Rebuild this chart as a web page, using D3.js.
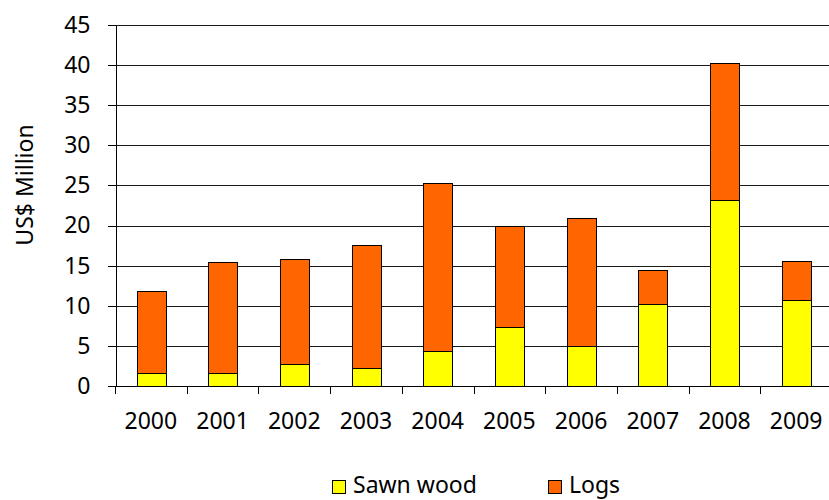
<!DOCTYPE html>
<html>
<head>
<meta charset="utf-8"/>
<title>Sawn wood and logs</title>
<style>
  * { margin: 0; padding: 0; }
  body { background: #fff; }
  svg { display: block; }
  text { font-family: "Noto Sans", "Open Sans", sans-serif; font-size: 23px; fill: #000; }
  .grid line { stroke: #1a1a1a; stroke-width: 1; }
  .axis path, .axis line { stroke: #000; stroke-width: 1; shape-rendering: crispEdges; }
</style>
<script src="https://d3js.org/d3.v7.min.js"></script>
</head>
<body>
<svg width="829" height="500"></svg>
<script>
// years on the x axis
const years = ["2000","2001","2002","2003","2004","2005","2006","2007","2008","2009"];
// US$ million
const sawnWood = [1.6, 1.6, 2.7, 2.2, 4.4, 7.3, 5.0, 10.2, 23.2, 10.7];
const logs     = [10.2, 13.9, 13.1, 15.4, 20.9, 12.7, 16.0, 4.3, 17.1, 4.9];
const seriesNames = ["Sawn wood", "Logs"];
const seriesColors = ["#FFFF00", "#FF6600"];
const yTicks = [0, 5, 10, 15, 20, 25, 30, 35, 40, 45];

const rows = years.map((y, i) => ({ year: y, "Sawn wood": sawnWood[i], "Logs": logs[i] }));

const plotLeft = 115, plotRight = 832, plotTop = 25, plotBottom = 386;
const svg = d3.select("svg");

const x = d3.scaleBand()
  .domain(years)
  .range([plotLeft, plotRight])
  .paddingInner(0.6)
  .paddingOuter(0.3);

const y = d3.scaleLinear()
  .domain([0, 45])
  .range([plotBottom, plotTop]);

// horizontal grid lines
svg.append("g").attr("class", "grid")
  .selectAll("line")
  .data(yTicks.filter(d => d > 0))
  .enter().append("line")
  .attr("x1", plotLeft).attr("x2", 829)
  .attr("y1", d => Math.round(y(d)) + 0.5)
  .attr("y2", d => Math.round(y(d)) + 0.5);

// stacked bars
const stacked = d3.stack().keys(seriesNames)(rows);
svg.append("g")
  .selectAll("g")
  .data(stacked)
  .enter().append("g")
  .attr("fill", (d, i) => seriesColors[i])
  .selectAll("rect")
  .data(d => d)
  .enter().append("rect")
  .attr("x", d => Math.round(x(d.data.year)) + 0.5)
  .attr("y", d => Math.round(y(d[1])) + 0.5)
  .attr("width", Math.round(x.bandwidth()))
  .attr("height", d => Math.round(y(d[0])) - Math.round(y(d[1])))
  .attr("stroke", "#000")
  .attr("stroke-width", 1);

// y axis
const yAxis = svg.append("g").attr("class", "axis")
  .attr("transform", `translate(${plotLeft + 0.5},0)`)
  .call(d3.axisLeft(y).tickValues(yTicks).tickSize(8).tickPadding(17).tickSizeOuter(0));
yAxis.selectAll("text").style("font-size", "23px").style("font-family", "'Noto Sans', sans-serif");

// x axis line and ticks at category boundaries
const gap = (x.step() - x.bandwidth()) / 2;
const xAxisG = svg.append("g").attr("class", "axis");
xAxisG.append("line")
  .attr("x1", plotLeft).attr("x2", 829)
  .attr("y1", plotBottom + 0.5).attr("y2", plotBottom + 0.5);
xAxisG.selectAll("line.tick")
  .data(years)
  .enter().append("line")
  .attr("class", "tick")
  .attr("x1", d => Math.round(x(d) - gap) + 0.5)
  .attr("x2", d => Math.round(x(d) - gap) + 0.5)
  .attr("y1", plotBottom).attr("y2", plotBottom + 8);

xAxisG.selectAll("text")
  .data(years)
  .enter().append("text")
  .attr("x", d => x(d) + x.bandwidth() / 2)
  .attr("y", 429)
  .attr("text-anchor", "middle")
  .text(d => d);

// y axis title
svg.append("text")
  .attr("transform", "translate(33,185) rotate(-90)")
  .attr("text-anchor", "middle")
  .text("US$ Million");

// legend
const legendX = [332, 548];
const legend = svg.append("g")
  .selectAll("g")
  .data(seriesNames)
  .enter().append("g")
  .attr("transform", (d, i) => `translate(${legendX[i]},0)`);
legend.append("rect")
  .attr("x", 0.5).attr("y", 480.5)
  .attr("width", 13).attr("height", 13)
  .attr("fill", (d, i) => seriesColors[i])
  .attr("stroke", "#000");
legend.append("text")
  .attr("x", 21)
  .attr("y", 493)
  .text(d => d);
</script>
</body>
</html>
